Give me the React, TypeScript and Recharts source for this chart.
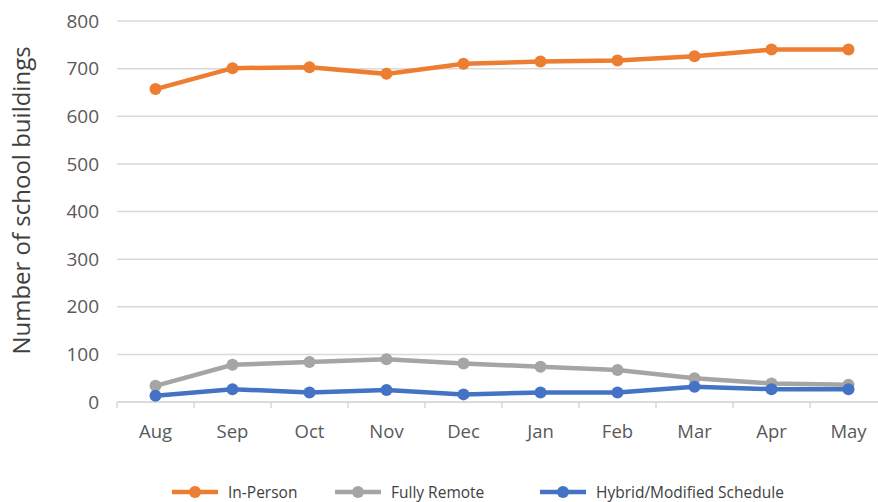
import { LineChart, Line, XAxis, YAxis, CartesianGrid, Legend } from "recharts";

const months = ["Aug", "Sep", "Oct", "Nov", "Dec", "Jan", "Feb", "Mar", "Apr", "May"];
const inPerson = [657, 701, 703, 689, 710, 715, 717, 726, 740, 740];
const fullyRemote = [34, 78, 84, 90, 81, 74, 67, 50, 39, 36];
const hybrid = [13, 27, 20, 25, 16, 20, 20, 32, 27, 27];
const yTicks = [0, 100, 200, 300, 400, 500, 600, 700, 800];

const data = months.map((month, i) => ({
  month,
  inPerson: inPerson[i],
  fullyRemote: fullyRemote[i],
  hybrid: hybrid[i],
}));

const series = [
  { key: "inPerson", name: "In-Person", color: "#ED7D31" },
  { key: "fullyRemote", name: "Fully Remote", color: "#A5A5A5" },
  { key: "hybrid", name: "Hybrid/Modified Schedule", color: "#4472C4" },
];

const labelFont = "'Open Sans', sans-serif";
const tickFont = "'Open Sans', sans-serif";

function MonthTick(props: any) {
  const { x, y, payload } = props;
  const half = 38.5;
  return (
    <g>
      <line x1={x - half} y1={y - 8} x2={x - half} y2={y - 2} stroke="#d9d9d9" strokeWidth={1.5} />
      <text x={x} y={y + 28} textAnchor="middle" fill="#595959" fontSize={18.5} fontFamily={tickFont}>
        {payload.value}
      </text>
    </g>
  );
}

function LegendContent() {
  const spots = [172, 335, 540];
  return (
    <svg width={878} height={40} style={{ overflow: "visible" }}>
      {series.map((s, i) => (
        <g key={s.key}>
          <line x1={spots[i]} y1={30} x2={spots[i] + 46} y2={30} stroke={s.color} strokeWidth={4.5} />
          <circle cx={spots[i] + 23} cy={30} r={6} fill={s.color} />
          <text x={spots[i] + 56} y={36} fill="#404040" fontSize={15.5} fontFamily={labelFont}>
            {s.name}
          </text>
        </g>
      ))}
    </svg>
  );
}

export default function App() {
  return (
    <div style={{ position: "fixed", left: 0, top: 0, width: 878, height: 502, overflow: "hidden", background: "#fff" }}>
      <LineChart width={887} height={502} data={data} margin={{ top: 21, right: 0, left: 0, bottom: 0 }}>
        <CartesianGrid vertical={false} stroke="#d9d9d9" strokeWidth={1.5} />
        <XAxis
          dataKey="month"
          scale="band"
          height={60}
          axisLine={{ stroke: "#d9d9d9", strokeWidth: 1.5 }}
          tickLine={false}
          tick={<MonthTick />}
          interval={0}
        />
        <YAxis
          width={117}
          domain={[0, 800]}
          ticks={yTicks}
          axisLine={false}
          tickLine={false}
          tickMargin={12}
          tick={{ fill: "#595959", fontSize: 19, fontFamily: tickFont }}
          label={{
            value: "Number of school buildings",
            angle: -90,
            position: "insideLeft",
            dx: 16,
            dy: -11,
            style: { fill: "#404040", fontSize: 24, fontFamily: labelFont, textAnchor: "middle" },
          }}
        />
        <Legend verticalAlign="bottom" height={40} content={<LegendContent />} />
        {series.map((s) => (
          <Line
            key={s.key}
            type="linear"
            dataKey={s.key}
            name={s.name}
            stroke={s.color}
            strokeWidth={4.5}
            dot={{ r: 6, fill: s.color, stroke: s.color, strokeWidth: 0 }}
            activeDot={false}
            isAnimationActive={false}
          />
        ))}
      </LineChart>
    </div>
  );
}
